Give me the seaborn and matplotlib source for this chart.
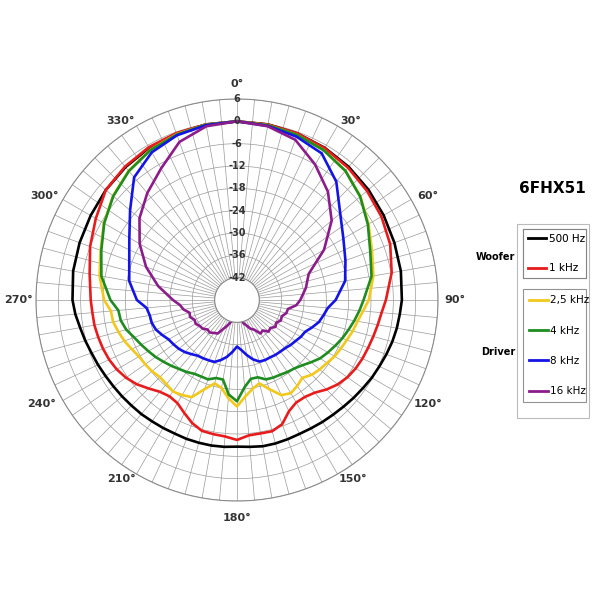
import numpy as np
import pandas as pd
import seaborn as sns
import matplotlib.pyplot as plt
from matplotlib.lines import Line2D
from matplotlib.patches import Rectangle

# --- polar response data (dB) ---
angles = list(range(0, 90, 10)) + list(range(90, 270, 5)) + list(range(270, 361, 10))

hz500 = [0, -0.1, -0.4, -0.8, -1.3, -1.9, -2.5, -3.0, -3.3,
         -3.7, -4.1, -4.4, -4.8, -5.3, -5.8, -6.2, -6.7, -7.1, -7.5,
         -7.8, -8.0, -8.2, -8.3, -8.2, -8.1, -8.1, -8.4, -8.6,
         -8.4, -8.3, -8.3, -8.3, -8.4, -8.3, -8.2, -8.0, -7.9,
         -7.7, -7.5, -7.2, -6.8, -6.4, -5.8, -5.2, -4.4,
         -3.8, -3.3, -3.0, -2.6, -2.0, -1.4, -0.8, -0.4, -0.1, 0]
khz1 = [0, -0.1, -0.4, -0.9, -1.6, -2.4, -3.2, -4.2, -5.8,
        -8.0, -9.0, -9.6, -10.1, -10.5, -10.8, -11.2, -11.8, -12.7, -14.0,
        -15.5, -16.2, -16.2, -15.0, -12.5, -11.5, -11.6, -11.5, -10.4,
        -11.2, -11.4, -11.6, -12.8, -14.5, -16.0, -16.4, -15.8, -14.4,
        -12.8, -11.6, -10.7, -10.1, -9.7, -9.4, -9.1, -9.0,
        -8.7, -7.8, -6.0, -4.2, -2.0, -1.2, -0.6, -0.3, -0.1, 0]
khz25 = [0, -0.3, -0.8, -1.5, -2.7, -4.7, -7.2, -9.4, -10.8,
         -12.6, -14.0, -15.1, -15.8, -16.6, -17.2, -17.7, -18.5, -19.0, -19.6,
         -20.7, -19.8, -19.1, -19.8, -22.5, -24.8, -23.8, -22.0, -19.4,
         -21.5, -24.0, -24.8, -22.5, -19.2, -18.5, -18.0, -18.5, -18.7,
         -18.2, -17.9, -17.6, -16.8, -15.8, -15.0, -14.2, -14.0,
         -12.3, -10.5, -9.0, -6.7, -4.5, -2.7, -1.4, -0.6, -0.2, 0]
khz4 = [0, -0.3, -0.8, -1.5, -2.7, -4.8, -7.4, -9.9, -11.3,
        -14.0, -15.0, -16.0, -17.0, -17.9, -18.9, -19.8, -20.7, -22.0, -23.2,
        -24.0, -24.4, -24.8, -25.0, -25.3, -26.5, -26.5, -24.5, -20.8,
        -22.5, -26.3, -26.3, -25.3, -25.3, -25.1, -24.4, -23.8, -23.0,
        -22.2, -21.3, -20.5, -19.6, -18.6, -17.2, -16.3, -16.0,
        -14.0, -11.0, -9.2, -6.8, -4.6, -2.8, -1.5, -0.7, -0.2, 0]
khz8 = [0, -0.5, -1.3, -2.5, -6.5, -11.8, -15.0, -17.0, -18.5,
        -21.5, -23.5, -24.4, -25.2, -26.5, -27.8, -28.2, -28.8, -29.2, -29.7,
        -29.9, -30.0, -30.2, -30.2, -30.4, -31.5, -33.0, -34.5, -35.5,
        -34.0, -32.5, -31.3, -30.3, -30.1, -29.9, -29.7, -29.0, -28.2,
        -27.6, -27.2, -26.8, -25.8, -24.8, -24.3, -24.2, -23.6,
        -21.1, -18.6, -17.2, -14.6, -10.5, -5.0, -2.2, -0.9, -0.3, 0]
khz16 = [0, -0.6, -2.2, -6.0, -10.0, -14.8, -21.0, -27.5, -29.2,
         -31.0, -32.0, -34.1, -34.3, -35.2, -35.0, -35.8, -35.4, -36.3, -36.0,
         -37.3, -37.0, -38.8, -39.5, -40.8, -41.6, -46.0, -46.0, -46.0,
         -46.0, -46.0, -42.0, -40.8, -39.5, -37.6, -37.2, -36.6, -36.8,
         -36.0, -35.8, -35.2, -35.4, -34.6, -34.8, -33.4, -32.6,
         -30.8, -26.5, -22.0, -17.8, -13.8, -10.5, -7.2, -2.8, -0.6, 0]

labels = ["500 Hz", "1 kHz", "2,5 kHz", "4 kHz", "8 kHz", "16 kHz"]
colors = ["#000000", "#e81c1c", "#f2c81a", "#1e8c1e", "#1414e6", "#8c1c8c"]
rings = [6, 0, -6, -12, -18, -24, -30, -36, -42]
deg_ticks = [0, 30, 60, 90, 120, 150, 180, 210, 240, 270, 300, 330]
# where the angle captions sit in the original (angle, dB radius)
deg_pos = [(0, 10.0), (32.5, 9.0), (61.5, 10.3), (90, 10.5), (118.5, 10.3),
           (147, 9.2), (180, 10.5), (213, 9.2), (242, 11.5), (270, 10.8),
           (298.5, 10.8), (327, 9.2)]

series = [hz500, khz1, khz25, khz4, khz8, khz16]
frames = []
for lab, vals in zip(labels, series):
    frames.append(pd.DataFrame({"theta": np.deg2rad(angles), "level": vals, "freq": lab}))
df = pd.concat(frames, ignore_index=True)

fig = plt.figure(figsize=(6, 6), dpi=100)
ax = fig.add_axes([0.06, 0.165, 0.67, 0.67], projection="polar")
ax.set_theta_zero_location("N")
ax.set_theta_direction(-1)
ax.set_rlim(-42, 6)
ax.set_rorigin(-48)

sns.lineplot(data=df, x="theta", y="level", hue="freq", hue_order=labels,
             palette=dict(zip(labels, colors)), sort=False, estimator=None,
             linewidth=1.9, legend=False, ax=ax)
ax.set_xlabel("")
ax.set_ylabel("")

# grid: spokes every 5 deg
ax.set_xticks(np.deg2rad(list(range(0, 360, 5))))
ax.set_xticklabels([])
ax.set_yticks(rings)
ax.set_yticklabels([])
ax.grid(True, color="#9a9a9a", linewidth=0.5)
for sp in ax.spines.values():
    sp.set_color("#8a8a8a")
    sp.set_linewidth(0.8)

for d, (a, r) in zip(deg_ticks, deg_pos):
    ax.text(np.deg2rad(a), r, f"{d}°", ha="center", va="center", fontsize=8,
            fontweight="bold", color="#333333", clip_on=False)

for r in rings:
    ax.text(0, r, str(r), ha="center", va="center", fontsize=7,
            fontweight="bold", color="#333333", clip_on=False)

# title + grouped legend
fig.text(552 / 600, 1 - 189 / 600, "6FHX51", ha="center", va="center",
         fontsize=11, fontweight="bold")

handles = [Line2D([], [], color=c, linewidth=2) for c in colors]
x0, w = 523 / 600, 63 / 600
leg1 = fig.legend(handles[:2], labels[:2], loc="upper left",
                  bbox_to_anchor=(x0, 1 - 229 / 600, w, 0), mode="expand",
                  fontsize=7.5, frameon=True, fancybox=False, borderpad=0.45,
                  labelspacing=1.9, handlelength=1.8, handletextpad=0.2,
                  borderaxespad=0)
leg2 = fig.legend(handles[2:], labels[2:], loc="upper left",
                  bbox_to_anchor=(x0, 1 - 289 / 600, w, 0), mode="expand",
                  fontsize=7.5, frameon=True, fancybox=False, borderpad=0.6,
                  labelspacing=1.95, handlelength=1.8, handletextpad=0.2,
                  borderaxespad=0)
for lg in (leg1, leg2):
    lg.get_frame().set_edgecolor("#777777")
    lg.get_frame().set_linewidth(0.8)
fig.add_artist(leg1)

fig.patches.append(Rectangle((517 / 600, 1 - 418 / 600), 72 / 600, 194 / 600,
                             transform=fig.transFigure, fill=False,
                             edgecolor="#bbbbbb", linewidth=0.8))
fig.text(515 / 600, 1 - 257 / 600, "Woofer", ha="right", va="center",
         fontsize=7, fontweight="bold")
fig.text(515 / 600, 1 - 352 / 600, "Driver", ha="right", va="center",
         fontsize=7, fontweight="bold")

fig.savefig("out.png", dpi=100)
